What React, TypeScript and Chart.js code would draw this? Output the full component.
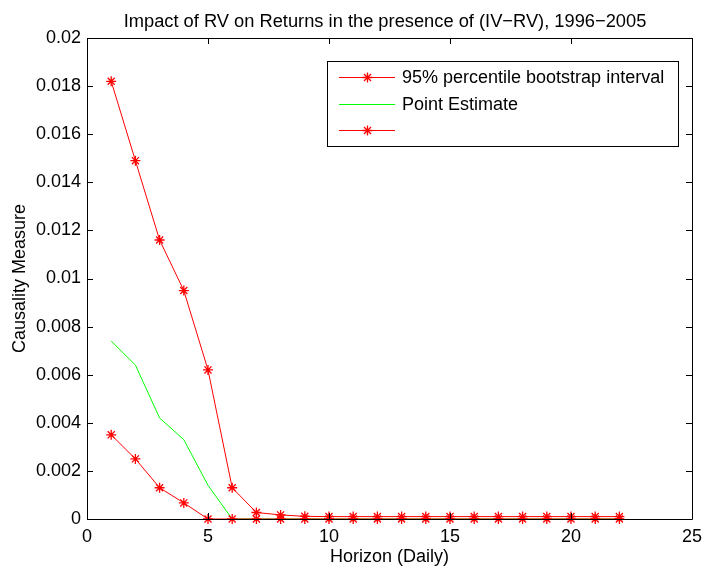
import React, { useEffect, useRef } from "react";
import { Chart, registerables } from "chart.js";

Chart.register(...registerables);

const horizons = [1, 2, 3, 4, 5, 6, 7, 8, 9, 10, 11, 12, 13, 14, 15, 16, 17, 18, 19, 20, 21, 22];
const upperBound = [0.0182, 0.0149, 0.0116, 0.0095, 0.0062, 0.0013, 0.00027, 0.00017, 0.00011, 0.0001, 0.0001, 0.0001, 0.0001, 0.0001, 0.0001, 0.0001, 0.0001, 0.0001, 0.0001, 0.0001, 0.0001, 0.0001];
const pointEstimate = [0.0074, 0.0064, 0.0042, 0.0033, 0.0014, 0, 0, 0, 0, 0, 0, 0, 0, 0, 0, 0, 0, 0, 0, 0, 0, 0];
const lowerBound = [0.0035, 0.0025, 0.0013, 0.00067, 0, 0, 0, 0, 0, 0, 0, 0, 0, 0, 0, 0, 0, 0, 0, 0, 0, 0];

const legendLabels = ["95% percentile bootstrap interval", "Point Estimate", ""];
const titleText = "Impact of RV on Returns in the presence of (IV\u2212RV), 1996\u22122005";
const xTitle = "Horizon (Daily)";
const yTitle = "Causality Measure";

const FONT = "'Liberation Sans', Arial, Helvetica, sans-serif";
const RED = "#ff0000";
const GREEN = "#00ff00";

function drawStar(ctx: CanvasRenderingContext2D, x: number, y: number, r: number) {
  ctx.beginPath();
  ctx.moveTo(x - r, y);
  ctx.lineTo(x + r, y);
  ctx.moveTo(x, y - r);
  ctx.lineTo(x, y + r);
  const d = r * Math.SQRT1_2;
  ctx.moveTo(x - d, y - d);
  ctx.lineTo(x + d, y + d);
  ctx.moveTo(x - d, y + d);
  ctx.lineTo(x + d, y - d);
  ctx.stroke();
}

const boxPlugin = {
  id: "matlabBox",
  afterDatasetsDraw(chart: any) {
    const { ctx, chartArea } = chart;
    const { left, right, top, bottom } = chartArea;
    const xs = chart.scales.x;
    const ys = chart.scales.y;
    ctx.save();
    ctx.strokeStyle = "#000";
    ctx.lineWidth = 1;
    ctx.beginPath();
    ctx.rect(Math.round(left) + 0.5, Math.round(top) + 0.5, Math.round(right - left), Math.round(bottom - top));
    ctx.stroke();
    const tl = 6;
    ctx.beginPath();
    xs.ticks.forEach((t: any) => {
      const px = Math.round(xs.getPixelForValue(t.value)) + 0.5;
      ctx.moveTo(px, bottom);
      ctx.lineTo(px, bottom - tl);
      ctx.moveTo(px, top);
      ctx.lineTo(px, top + tl);
    });
    ys.ticks.forEach((t: any) => {
      const py = Math.round(ys.getPixelForValue(t.value)) + 0.5;
      ctx.moveTo(left, py);
      ctx.lineTo(left + tl, py);
      ctx.moveTo(right, py);
      ctx.lineTo(right - tl, py);
    });
    ctx.stroke();

    // title
    ctx.fillStyle = "#000";
    ctx.font = `18.3px ${FONT}`;
    ctx.textAlign = "center";
    ctx.textBaseline = "alphabetic";
    ctx.fillText(titleText, 385, 26.5);

    // legend
    const bx = 327.5, by = 61.5, bw = 351, bh = 85;
    ctx.fillStyle = "#fff";
    ctx.fillRect(bx, by, bw, bh);
    ctx.strokeStyle = "#000";
    ctx.strokeRect(bx, by, bw, bh);
    const rows = [77, 104, 130];
    const colors = [RED, GREEN, RED];
    const markers = [true, false, true];
    ctx.font = `18px ${FONT}`;
    ctx.textBaseline = "middle";
    ctx.textAlign = "left";
    rows.forEach((ry, i) => {
      ctx.strokeStyle = colors[i];
      ctx.lineWidth = 1;
      ctx.beginPath();
      ctx.moveTo(339, ry + 0.5);
      ctx.lineTo(395, ry + 0.5);
      ctx.stroke();
      if (markers[i]) {
        ctx.lineWidth = 1.3;
        drawStar(ctx, 367.5, ry + 0.5, 5);
      }
      ctx.fillStyle = "#000";
      ctx.fillText(legendLabels[i], 402, ry + 1);
    });
    ctx.restore();
  },
};

export default function App() {
  const ref = useRef<HTMLCanvasElement | null>(null);
  useEffect(() => {
    document.body.style.margin = "0";
    const canvas = ref.current;
    if (!canvas) return;
    const mk = (data: number[]) => horizons.map((h, i) => ({ x: h, y: data[i] }));
    const starSet = (label: string, data: number[]) => ({
      label,
      data: mk(data),
      borderColor: RED,
      backgroundColor: RED,
      borderWidth: 1,
      pointStyle: "star",
      pointRadius: 5,
      pointBorderWidth: 1.3,
      pointBorderColor: RED,
      tension: 0,
      clip: false as any,
    });
    const chart = new Chart(canvas, {
      type: "line",
      data: {
        datasets: [
          starSet(legendLabels[0], upperBound),
          starSet(legendLabels[2], lowerBound),
          {
            label: legendLabels[1],
            data: mk(pointEstimate),
            borderColor: GREEN,
            backgroundColor: GREEN,
            borderWidth: 1,
            pointRadius: 0,
            tension: 0,
            clip: false as any,
          },
        ] as any,
      },
      options: {
        responsive: false,
        animation: false,
        layout: { padding: { left: 0, right: 15, top: 38, bottom: 0 } },
        plugins: {
          legend: { display: false },
          tooltip: { enabled: false },
          title: { display: false },
        },
        scales: {
          x: {
            type: "linear",
            min: 0,
            max: 25,
            afterFit: (s: any) => {
              s.height = 53;
            },
            ticks: {
              stepSize: 5,
              color: "#000",
              font: { family: FONT, size: 18 },
              padding: 7,
              maxRotation: 0,
            },
            grid: { display: false, drawTicks: false },
            border: { display: false },
            title: {
              display: true,
              text: xTitle,
              color: "#000",
              font: { family: FONT, size: 18 },
              padding: { top: 0, bottom: 4 },
            },
          },
          y: {
            type: "linear",
            min: 0,
            max: 0.02,
            afterFit: (s: any) => {
              s.width = 87;
            },
            ticks: {
              stepSize: 0.002,
              color: "#000",
              font: { family: FONT, size: 18 },
              padding: 6,
              callback: (v: any) => String(Number(Number(v).toFixed(3))),
            },
            grid: { display: false, drawTicks: false },
            border: { display: false },
            title: {
              display: true,
              text: yTitle,
              color: "#000",
              font: { family: FONT, size: 18 },
              padding: { top: 9, bottom: 0 },
            },
          },
        },
      },
      plugins: [boxPlugin],
    });
    return () => chart.destroy();
  }, []);
  return (
    <div style={{ width: 709, height: 572, background: "#fff" }}>
      <canvas ref={ref} width={709} height={572} style={{ display: "block" }} />
    </div>
  );
}
